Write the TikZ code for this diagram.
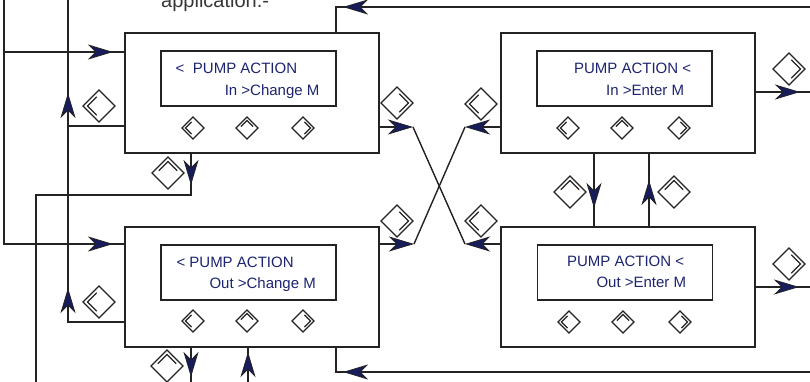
\documentclass[tikz,border=0pt]{standalone}
\usepackage{fontspec}
\setmainfont{Liberation Sans}
\usetikzlibrary{arrows.meta,decorations.markings,calc}
\definecolor{linec}{RGB}{35,35,35}
\definecolor{navc}{RGB}{22,28,92}
\definecolor{txtc}{RGB}{28,36,112}
\definecolor{headc}{RGB}{55,55,55}
\tikzset{
  navarrow/.tip={Stealth[length=25pt,width=15pt,inset=7.5pt,fill=navc,line width=0.8pt]},
  conn/.style={draw=linec,line width=1.4pt},
  amark/.style={postaction={decorate,decoration={markings,
      mark=at position #1 with {\arrow{Stealth[length=25pt,width=15pt,inset=7.5pt,fill=navc,line width=0.8pt]}}}}},
  box/.style={draw=linec,line width=1.5pt,minimum width=254pt,minimum height=120pt,inner sep=0pt,outer sep=0pt},
  disp/.style={draw=linec,line width=1.5pt,minimum width=175pt,minimum height=55pt,inner sep=0pt,outer sep=0pt},
  lcd/.style={text=txtc,font=\fontsize{15}{18}\selectfont,inner sep=0pt,anchor=base west},
  icsize/.code={\def\bh{#1}},
  icinner/.code={\def\bi{#1}},
  bigic/.style={icsize=16,icinner=11.5,line width=1.3pt,color=linec},
  smallic/.style={icsize=11,icinner=7.6,line width=1.25pt,color=linec},
  pics/lbtn/.style={code={
    \draw (-\bh,0) -- (0,-\bh) -- (\bh,0) -- (0,\bh) -- cycle;
    \draw (-0.2*\bi,-0.8*\bi) -- (-\bi,0) -- (-0.2*\bi,0.8*\bi);
  }},
  pics/rbtn/.style={code={
    \draw (-\bh,0) -- (0,-\bh) -- (\bh,0) -- (0,\bh) -- cycle;
    \draw (0.2*\bi,-0.8*\bi) -- (\bi,0) -- (0.2*\bi,0.8*\bi);
  }},
  pics/ubtn/.style={code={
    \draw (-\bh,0) -- (0,-\bh) -- (\bh,0) -- (0,\bh) -- cycle;
    \draw (-0.8*\bi,-0.2*\bi) -- (0,-\bi) -- (0.8*\bi,-0.2*\bi);
  }},
}
\begin{document}
\begin{tikzpicture}[x=1pt,y=-1pt,line join=miter]
\useasboundingbox (0,0) rectangle (810,382);

% heading (cut off at the top)
\node[font=\fontsize{20}{24}\selectfont,text=headc,anchor=base west,inner sep=0pt] (head) at (161,8) {application.-};

% boxes
\node[box] (B1) at (252,93) {};
\node[box] (B2) at (628,93) {};
\node[box] (B3) at (252,287) {};
\node[box] (B4) at (628,287) {};

% displays
\node[disp] (D1) at (248.5,78.5) {};
\node[disp] (D2) at (624.5,78.5) {};
\node[disp] (D3) at (248.5,272.5) {};
\node[disp] (D4) at (625,272.5) {};

\node[lcd] (t1a) at (175.3,73.5) {<\hspace{8.7pt}PUMP ACTION};
\node[lcd] (t1b) at (224.6,95.5) {In >Change M};
\node[lcd] (t2a) at (573.8,73.5) {PUMP ACTION <};
\node[lcd] (t2b) at (606,95.5) {In >Enter M};
\node[lcd] (t3a) at (176.3,267) {< PUMP ACTION};
\node[lcd] (t3b) at (209.3,288) {Out >Change M};
\node[lcd] (t4a) at (566.8,266.5) {PUMP ACTION <};
\node[lcd] (t4b) at (596.3,287.5) {Out >Enter M};

% buttons in boxes
\pic[smallic] (k1l) at (193,128) {lbtn};
\pic[smallic] (k1u) at (247,128) {ubtn};
\pic[smallic] (k1r) at (303,128) {rbtn};
\pic[smallic] (k2l) at (568,128) {lbtn};
\pic[smallic] (k2u) at (622,128) {ubtn};
\pic[smallic] (k2r) at (679,128) {rbtn};
\pic[smallic] (k3l) at (193,321) {lbtn};
\pic[smallic] (k3u) at (247,321) {ubtn};
\pic[smallic] (k3r) at (303,321) {rbtn};
\pic[smallic] (k4l) at (569,322) {lbtn};
\pic[smallic] (k4u) at (623,322) {ubtn};
\pic[smallic] (k4r) at (680,322) {rbtn};

% coordinates for free ends and corners
\coordinate (aTop) at (4,0);
\coordinate (aCorner) at (4,244);
\coordinate (aBranch) at (4,52);
\coordinate (bTop) at (68,0);
\coordinate (bJoin) at (68,126);
\coordinate (bCorner) at (68,322);
\coordinate (cA) at (191,195);
\coordinate (cB) at (36,195);
\coordinate (cEnd) at (36,382);
\coordinate (dEnd) at (191,382);
\coordinate (eStart) at (248,382);
\coordinate (fStart) at (810,372);
\coordinate (fCorner) at (336,372);
\coordinate (gStart) at (810,7);
\coordinate (gCorner) at (336,7);
\coordinate (hEnd) at (810,92);
\coordinate (iEnd) at (810,287);
\coordinate (x1) at (413,127);
\coordinate (x2) at (465,244);
\coordinate (x3) at (465,127);
\coordinate (x4) at (414,244);

% left feed lines
\draw[conn,amark=353pt] (aTop) -- (aCorner) -- ([yshift=43pt]B3.west);
\draw[conn,amark=109pt] (aBranch) -- ([yshift=41pt]B1.west);
\draw[conn,amark=90pt] ([yshift=-33pt]B1.west) -- (bJoin) -- (bTop);
\draw[conn,amark=91pt] ([yshift=-35pt]B3.west) -- (bCorner) -- (bJoin);

% bottoms
\draw[conn,amark=32pt] ([xshift=-61pt]B1.south) -- (cA) -- (cB) -- (cEnd);
\draw[conn,amark=30pt] ([xshift=-61pt]B3.south) -- (dEnd);
\draw[conn,amark=30pt] (eStart) -- ([xshift=-4pt]B3.south);
\draw[conn,amark=467pt] (fStart) -- (fCorner) -- ([xshift=84pt]B3.south);
\draw[conn,amark=467pt] (gStart) -- (gCorner) -- ([xshift=84pt]B1.north);

% right outputs
\draw[conn,amark=45pt] ([yshift=1pt]B2.east) -- (hEnd);
\draw[conn,amark=44pt] (B4.east) -- (iEnd);

% between B2 and B4
\draw[conn,amark=55pt] ([xshift=-34pt]B2.south) -- ([xshift=-34pt]B4.north);
\draw[conn,amark=47pt] ([xshift=21pt]B4.north) -- ([xshift=21pt]B2.south);

% crossing
\draw[conn,-navarrow] ([yshift=-34pt]B1.east) -- (x1);
\draw[conn,-navarrow] ([yshift=43pt]B4.west) -- (x2);
\draw[conn] (x1) -- (x2);
\draw[conn,-navarrow] ([yshift=-34pt]B2.west) -- (x3);
\draw[conn,-navarrow] ([yshift=43pt]B3.east) -- (x4);
\draw[conn] (x3) -- (x4);

% side icons
\pic[bigic] (s1) at (99,106) {lbtn};
\pic[bigic] (s2) at (99,302) {lbtn};
\pic[bigic] (s3) at (168,173) {ubtn};
\pic[bigic] (s4) at (167,366) {ubtn};
\pic[bigic] (s5) at (397,103) {rbtn};
\pic[bigic] (s6) at (397,221) {rbtn};
\pic[bigic] (s7) at (481,104) {lbtn};
\pic[bigic] (s8) at (481,221) {lbtn};
\pic[bigic] (s9) at (789,69) {rbtn};
\pic[bigic] (s10) at (789,264) {rbtn};
\pic[bigic] (s11) at (570,192) {ubtn};
\pic[bigic] (s12) at (674,192) {ubtn};
\end{tikzpicture}
\end{document}
